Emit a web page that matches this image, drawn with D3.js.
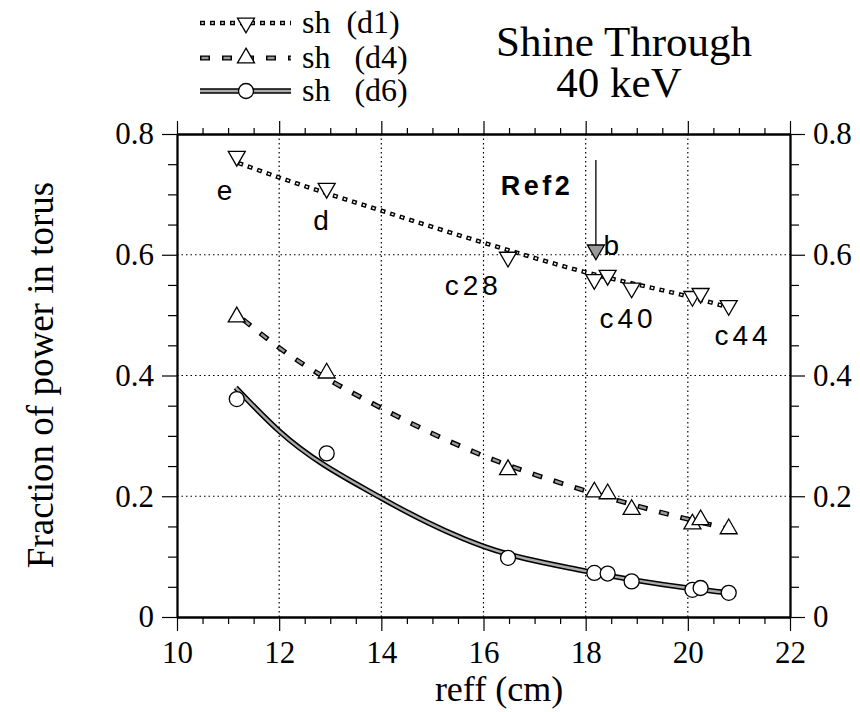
<!DOCTYPE html>
<html><head><meta charset="utf-8">
<script src="https://cdn.jsdelivr.net/npm/d3@7"></script>
<style>body{margin:0;background:#fff}</style>
</head><body>
<svg id="c" width="860" height="712"></svg>
<script>
// ---- data ----
const reff = [11.17, 12.93, 16.48, 18.17, 18.43, 18.9, 20.09, 20.25, 20.8];
const shD1 = [0.763, 0.710, 0.596, 0.559, 0.566, 0.545, 0.531, 0.536, 0.516];
const shD4 = [0.497, 0.404, 0.244, 0.207, 0.204, 0.178, 0.154, 0.161, 0.146];
const shD6 = [0.361, 0.271, 0.098, 0.073, 0.072, 0.059, 0.045, 0.048, 0.040];
const fitD1 = [[11.2,0.752],[12,0.728],[14,0.673],[16,0.620],[18,0.571],[20,0.531],[20.8,0.513]];
const fitD4 = [[11.29,0.493],[12,0.446],[14,0.346],[16,0.267],[18,0.209],[20,0.162],[20.8,0.146]];
const fitD6 = [[11.15,0.380],[12,0.308],[14,0.197],[16,0.117],[18,0.076],[20,0.048],[20.8,0.040]];
const ref2Point = {x: 18.2, y: 0.608, arrowTop: 0.757};
const xTicks = [10, 12, 14, 16, 18, 20, 22];
const yTicks = [0, 0.2, 0.4, 0.6, 0.8];
const yTickLabels = ["0", "0.2", "0.4", "0.6", "0.8"];
const pointLabels = [
  {t:"e", x:10.97, y:0.691}, {t:"d", x:12.86, y:0.641}, {t:"c28", x:15.80, y:0.533},
  {t:"b", x:18.54, y:0.600}, {t:"c40", x:18.83, y:0.478}, {t:"c44", x:21.08, y:0.4505}
];
const ref2Label = {t:"Ref2", x:17.05, y:0.699};
const legendNames = ["sh  (d1)", "sh   (d4)", "sh   (d6)"];

// ---- layout ----
const L = 177, T = 134, R = 790, B = 617;
const svg = d3.select("#c");
const x = d3.scaleLinear().domain([10, 22]).range([L, R]);
const y = d3.scaleLinear().domain([0, 0.8]).range([B, T]);
const serif = "'Liberation Serif','Times New Roman',serif";
const sans = "'Liberation Sans',Arial,sans-serif";

// grid
const g = svg.append("g");
g.selectAll(".gx").data(xTicks.slice(1, -1)).join("line")
  .attr("x1", d => x(d)).attr("x2", d => x(d)).attr("y1", T).attr("y2", B)
  .attr("stroke", "#000").attr("stroke-width", 1.2).attr("stroke-dasharray", "1.5,3");
g.selectAll(".gy").data(yTicks.slice(1, -1)).join("line")
  .attr("y1", d => y(d)).attr("y2", d => y(d)).attr("x1", L).attr("x2", R)
  .attr("stroke", "#000").attr("stroke-width", 1.2).attr("stroke-dasharray", "1.5,3");

// axes
const xMinor = d3.range(10, 22.01, 0.5).filter(v => Math.abs(v % 2) > 0.01);
const yMinor = d3.range(0, 0.801, 0.05).filter(v => Math.abs((v / 0.2) - Math.round(v / 0.2)) > 0.01);
function ax(axis, tx, ty) {
  const a = svg.append("g").attr("transform", `translate(${tx},${ty})`).call(axis);
  a.selectAll("path").attr("stroke", "#000").attr("stroke-width", 1.8);
  a.selectAll("line").attr("stroke", "#000").attr("stroke-width", 1.2);
  a.selectAll("text").attr("font-family", serif).attr("font-size", 31).attr("fill", "#000");
  return a;
}
ax(d3.axisBottom(x).tickValues(xMinor).tickSize(7).tickFormat("").tickSizeOuter(0), 0, B);
ax(d3.axisBottom(x).tickValues(xTicks).tickSize(14).tickPadding(10).tickFormat(d3.format("d")).tickSizeOuter(0), 0, B);
ax(d3.axisTop(x).tickValues(xMinor).tickSize(6).tickFormat("").tickSizeOuter(0), 0, T);
ax(d3.axisTop(x).tickValues(xTicks).tickSize(13).tickFormat("").tickSizeOuter(0), 0, T);
ax(d3.axisLeft(y).tickValues(yMinor).tickSize(9).tickFormat("").tickSizeOuter(0), L, 0);
ax(d3.axisLeft(y).tickValues(yTicks).tickSize(15).tickPadding(8).tickFormat((d, i) => yTickLabels[i]).tickSizeOuter(0), L, 0);
ax(d3.axisRight(y).tickValues(yMinor).tickSize(9).tickFormat("").tickSizeOuter(0), R, 0);
ax(d3.axisRight(y).tickValues(yTicks).tickSize(15).tickPadding(8).tickFormat((d, i) => yTickLabels[i]).tickSizeOuter(0), R, 0);

// line styles
function styledPath(sel, style) {
  if (style === "d1") {
    sel.append("path").attr("fill", "none").attr("stroke", "#000").attr("stroke-width", 4.4).attr("stroke-dasharray", "5,5");
    sel.append("path").attr("fill", "none").attr("stroke", "#fff").attr("stroke-width", 1.6).attr("stroke-dasharray", "2.2,7.8").attr("stroke-dashoffset", -1.4);
  } else if (style === "d4") {
    sel.append("path").attr("fill", "none").attr("stroke", "#000").attr("stroke-width", 5).attr("stroke-dasharray", "10,12");
    sel.append("path").attr("fill", "none").attr("stroke", "#999").attr("stroke-width", 2.4).attr("stroke-dasharray", "7,15").attr("stroke-dashoffset", -1.5);
  } else {
    sel.append("path").attr("fill", "none").attr("stroke", "#000").attr("stroke-width", 5.5);
    sel.append("path").attr("fill", "none").attr("stroke", "#aaa").attr("stroke-width", 2.4);
  }
}
const line = d3.line().x(d => x(d[0])).y(d => y(d[1])).curve(d3.curveMonotoneX);
[[fitD1, "d1"], [fitD4, "d4"], [fitD6, "d6"]].forEach(([data, st]) => {
  const gg = svg.append("g");
  styledPath(gg, st);
  gg.selectAll("path").attr("d", line(data));
});

// markers
const triSize = 125, circR = 7.5;
const tri = d3.symbol().type(d3.symbolTriangle).size(triSize);
function marker(sel, kind, cx, cy, fill) {
  if (kind === "down") {
    sel.append("path").attr("d", tri()).attr("transform", `translate(${cx},${cy}) rotate(180)`)
      .attr("fill", fill || "#fff").attr("stroke", "#000").attr("stroke-width", 1.3);
  } else if (kind === "up") {
    sel.append("path").attr("d", tri()).attr("transform", `translate(${cx},${cy})`)
      .attr("fill", fill || "#fff").attr("stroke", "#000").attr("stroke-width", 1.3);
  } else {
    sel.append("circle").attr("cx", cx).attr("cy", cy).attr("r", circR)
      .attr("fill", "#fff").attr("stroke", "#000").attr("stroke-width", 1.3);
  }
}
const mg = svg.append("g");
reff.forEach((r, i) => {
  marker(mg, "circle", x(r), y(shD6[i]));
  marker(mg, "up", x(r), y(shD4[i]));
  marker(mg, "down", x(r), y(shD1[i]));
});

// Ref2 arrow + point
svg.append("line").attr("x1", x(ref2Point.x)).attr("x2", x(ref2Point.x))
  .attr("y1", y(ref2Point.arrowTop)).attr("y2", y(ref2Point.y) - 4)
  .attr("stroke", "#000").attr("stroke-width", 1.3);
marker(svg, "down", x(ref2Point.x), y(ref2Point.y), "#999");
svg.append("text").attr("x", x(ref2Label.x)).attr("y", y(ref2Label.y)).attr("text-anchor", "middle")
  .attr("font-family", sans).attr("font-weight", "bold").attr("font-size", 27).attr("letter-spacing", 3.5).text(ref2Label.t);

// point labels
svg.selectAll(".pl").data(pointLabels).join("text")
  .attr("x", d => x(d.x)).attr("y", d => y(d.y)).attr("text-anchor", "middle")
  .attr("font-family", sans).attr("font-size", 28).attr("letter-spacing", 4).text(d => d.t);

// legend
const legY = [23, 58, 91];
legendNames.forEach((nm, i) => {
  const lg = svg.append("g");
  const st = ["d1", "d4", "d6"][i];
  styledPath(lg, st);
  lg.selectAll("path").attr("d", `M200,${legY[i]}H291`);
  marker(lg, ["down", "up", "circle"][i], 246, legY[i]);
  svg.append("text").attr("x", 302).attr("y", legY[i] + 10).attr("font-family", serif)
    .attr("font-size", 32).style("white-space", "pre").text(nm);
});

// title
svg.append("text").attr("x", 624).attr("y", 56).attr("text-anchor", "middle")
  .attr("font-family", serif).attr("font-size", 43).text("Shine Through");
svg.append("text").attr("x", 619).attr("y", 97).attr("text-anchor", "middle")
  .attr("font-family", serif).attr("font-size", 43).text("40 keV");

// axis titles
svg.append("text").attr("transform", "translate(53,375) rotate(-90)").attr("text-anchor", "middle")
  .attr("font-family", serif).attr("font-size", 37).text("Fraction of power in torus");
svg.append("text").attr("x", 499).attr("y", 701).attr("text-anchor", "middle")
  .attr("font-family", serif).attr("font-size", 36).text("reff (cm)");
</script>
</body></html>
